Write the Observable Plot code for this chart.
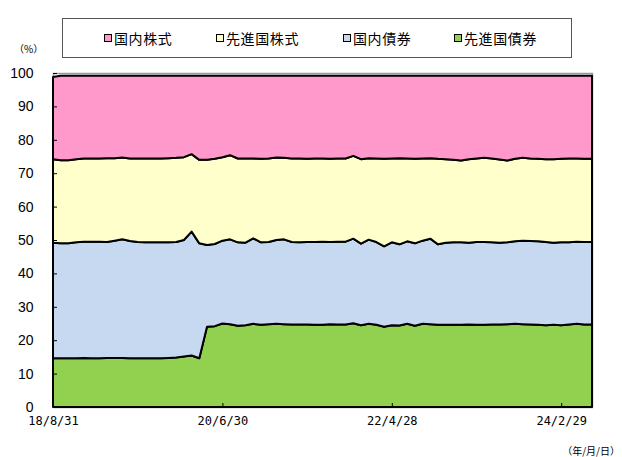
<!DOCTYPE html>
<html>
<head>
<meta charset="utf-8">
<script src="https://cdn.jsdelivr.net/npm/d3@7"></script>
<script src="https://cdn.jsdelivr.net/npm/@observablehq/plot@0.6"></script>
<style>
  body { margin: 0; background: #fff; }
  #wrap { position: relative; width: 622px; height: 457px; overflow: hidden; background: #fff; }
  #legend { position: absolute; left: 62px; top: 18px; width: 510px; height: 40px; box-sizing: border-box;
            border: 1px solid #555; background: #fff; font-family: "Noto Sans CJK JP", sans-serif; font-size: 14px; letter-spacing: 0.6px; color: #000; }
  .item { position: absolute; top: 0; height: 38px; display: flex; align-items: center; white-space: nowrap; }
  .sw { width: 6px; height: 6px; border: 1px solid #000; margin-right: 2px; }
  .note { position: absolute; font-family: "Noto Sans CJK JP", sans-serif; font-size: 10px; color: #000; white-space: nowrap; }
  #chart { position: absolute; left: 0; top: 0; }
</style>
</head>
<body>
<div id="wrap">
  <div id="chart"></div>
  <div id="legend"></div>
  <div class="note" style="left:14px; top:41px;">（%）</div>
  <div class="note" style="right:2px; top:443px;">（年/月/日）</div>
</div>
<script>
// series (stack order bottom -> top)
const seriesNames = ["先進国債券", "国内債券", "先進国株式", "国内株式"];
const seriesColors = ["#92D050", "#C6D9F1", "#FFFFCC", "#FF99CC"];
const legendOrder = ["国内株式", "先進国株式", "国内債券", "先進国債券"];

// monthly values (%), 2018/8 ... 2024/6
const foreignBonds = [
  14.6,14.6,14.6,14.6,14.7,14.6,14.6,14.7,14.7,14.7,
  14.6,14.6,14.6,14.6,14.6,14.7,14.8,15.1,15.4,14.6,
  24.0,24.2,25.0,24.8,24.3,24.5,24.9,24.6,24.8,24.9,
  24.8,24.7,24.7,24.7,24.6,24.6,24.8,24.7,24.7,25.1,
  24.5,24.9,24.6,24.0,24.5,24.4,24.9,24.3,24.9,24.8,
  24.6,24.6,24.6,24.6,24.7,24.6,24.6,24.7,24.7,24.8,
  24.9,24.8,24.7,24.6,24.5,24.6,24.5,24.7,24.9,24.7,
  24.7];
const domesticBonds = [
  34.6,34.4,34.4,34.7,34.8,34.9,34.9,34.7,35.1,35.5,
  35.1,34.8,34.7,34.7,34.7,34.6,34.6,34.9,37.1,34.4,
  24.5,24.6,24.8,25.4,25.0,24.7,25.6,24.7,24.6,25.1,
  25.4,24.7,24.6,24.7,24.8,24.9,24.6,24.8,24.8,25.3,
  24.4,25.2,24.8,24.1,24.8,24.3,24.7,24.7,24.9,25.6,
  24.1,24.6,24.7,24.7,24.5,24.8,24.8,24.6,24.5,24.5,
  24.7,25.0,25.0,25.0,24.9,24.6,24.8,24.6,24.6,24.7,
  24.7];
const foreignStocks = [
  25.0,24.9,24.9,24.9,24.9,24.9,24.9,25.1,24.7,24.5,
  24.7,25.0,25.1,25.1,25.1,25.2,25.2,24.8,23.2,25.0,
  25.5,25.5,25.0,25.2,25.1,25.2,23.9,25.0,25.0,24.7,
  24.4,25.0,25.1,24.9,25.0,24.9,24.9,24.9,24.9,24.8,
  25.3,24.4,25.0,26.2,25.1,25.8,24.8,25.3,24.6,24.1,
  25.6,25.0,24.7,24.5,25.0,25.0,25.2,25.1,24.9,24.5,
  24.7,24.8,24.7,24.7,24.8,25.0,25.0,25.1,24.9,24.9,
  24.9];
const domesticStocks = [
  24.6,25.3,25.3,25.0,24.8,24.8,24.8,24.7,24.7,24.5,
  24.8,24.8,24.8,24.8,24.8,24.7,24.6,24.4,23.5,25.2,
  25.2,24.9,24.4,23.8,24.8,24.8,24.8,24.9,24.8,24.5,
  24.6,24.8,24.8,24.9,24.8,24.8,24.9,24.8,24.8,24.0,
  25.0,24.7,24.8,24.9,24.8,24.7,24.8,24.9,24.8,24.7,
  24.9,25.0,25.2,25.4,25.0,24.8,24.6,24.8,25.1,25.4,
  24.9,24.6,24.8,24.9,25.0,25.0,24.9,24.8,24.8,24.9,
  24.9];
const seriesValues = [foreignBonds, domesticBonds, foreignStocks, domesticStocks];

// axis ticks
const xTickIndex = [0, 22, 44, 66];
const xTickLabels = ["18/8/31", "20/6/30", "22/4/28", "24/2/29"];
const yTicks = [0, 10, 20, 30, 40, 50, 60, 70, 80, 90, 100];

const n = foreignBonds.length;
const rows = seriesNames.flatMap((s, k) => seriesValues[k].map((v, i) => ({i, s, v})));

const chart = Plot.plot({
  width: 622,
  height: 457,
  marginLeft: 53,
  marginRight: 30,
  marginTop: 73,
  marginBottom: 50,
  style: {fontFamily: "Liberation Sans, Arial, sans-serif", fontSize: "14px", color: "#000", background: "transparent"},
  x: {type: "linear", domain: [0, n - 1]},
  y: {domain: [0, 100]},
  color: {domain: seriesNames, range: seriesColors},
  marks: [
    Plot.frame({stroke: "#9a9a9a", strokeWidth: 1.5}),
    Plot.areaY(rows, {x: "i", y: "v", z: "s", fill: "s", stroke: "#000", strokeWidth: 2, strokeLinejoin: "round", order: seriesNames}),
    Plot.axisY({ticks: yTicks, tickSize: 4, dx: 4, fill: "none", stroke: "#000", label: null}),
    Plot.axisX({ticks: xTickIndex, tickSize: 4, dy: -4, fill: "none", stroke: "#000", label: null}),
    Plot.axisY({ticks: yTicks, tickSize: 0, tickPadding: 20, fontSize: 14, label: null}),
    Plot.axisX({ticks: xTickIndex, tickFormat: d => xTickLabels[xTickIndex.indexOf(d)], tickSize: 0, tickPadding: 9,
                fontFamily: "DejaVu Sans Mono", fontSize: 12, label: null})
  ]
});
document.getElementById("chart").appendChild(chart);

// legend
const legendX = [41, 153, 280, 391];
const legend = document.getElementById("legend");
legendOrder.forEach((name, k) => {
  const item = document.createElement("div");
  item.className = "item";
  item.style.left = legendX[k] + "px";
  const sw = document.createElement("div");
  sw.className = "sw";
  sw.style.background = seriesColors[seriesNames.indexOf(name)];
  const t = document.createElement("span");
  t.textContent = name;
  item.appendChild(sw);
  item.appendChild(t);
  legend.appendChild(item);
});
</script>
</body>
</html>
